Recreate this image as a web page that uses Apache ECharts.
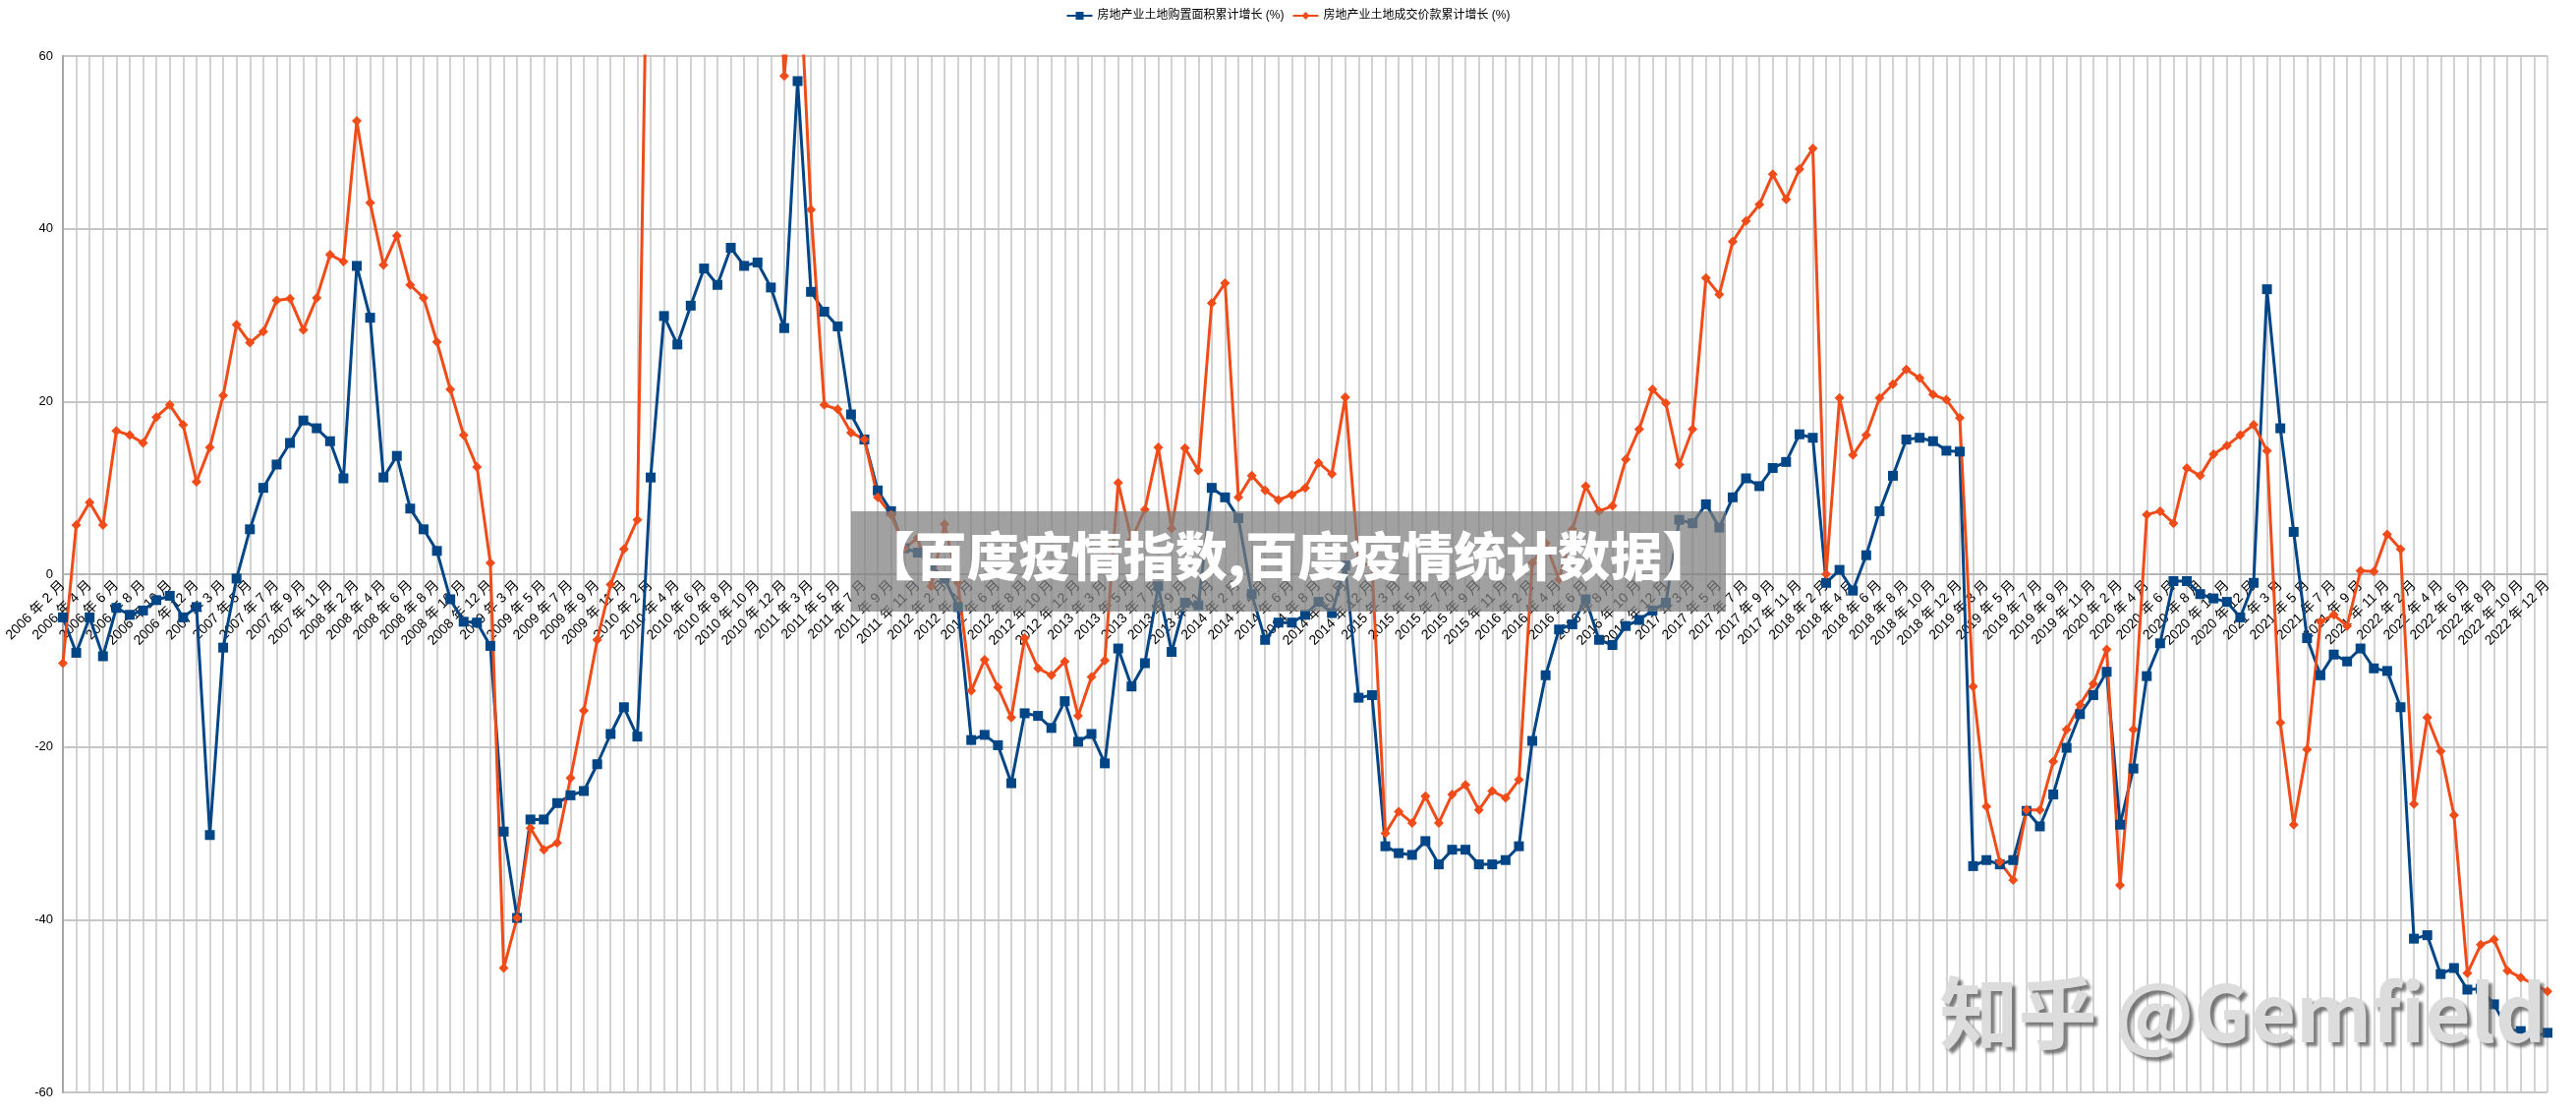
<!DOCTYPE html>
<html lang="zh">
<head>
<meta charset="UTF-8">
<title>房地产业土地购置面积与成交价款累计增长</title>
<script src="https://cdn.jsdelivr.net/npm/echarts@6/dist/echarts.min.js"></script>
<style>
  html, body { margin: 0; padding: 0; background: #fff; }
  #main { width: 2621px; height: 1134px; }
</style>
</head>
<body>
<div id="main"></div>
<script>
// months run Feb..Dec (Jan is merged into Feb), 2006-2022
var years = [];
for (var y = 2006; y <= 2022; y++) years.push(y);
var months = [2, 3, 4, 5, 6, 7, 8, 9, 10, 11, 12];

var seriesNames = ['房地产业土地购置面积累计增长 (%)', '房地产业土地成交价款累计增长 (%)'];

// 土地购置面积累计增长 (%)
var areaGrowth = [
  -5.0, -9.1, -5.0, -9.5, -3.9, -4.7, -4.2, -3.0, -2.5, -5.0, -3.8,
  -30.2, -8.5, -0.5, 5.2, 10.0, 12.7, 15.2, 17.8, 16.9, 15.4, 11.1,
  35.7, 29.7, 11.2, 13.7, 7.6, 5.2, 2.7, -2.9, -5.5, -5.6, -8.3,
  -29.8, -39.8, -28.4, -28.4, -26.5, -25.6, -25.1, -22.0, -18.5, -15.4, -18.8,
  11.2, 29.9, 26.6, 31.1, 35.4, 33.5, 37.8, 35.7, 36.1, 33.2, 28.5,
  57.1, 32.7, 30.4, 28.7, 18.5, 15.6, 9.7, 7.3, 3.0, 2.5, 1.0,
  -0.5, -3.8, -19.2, -18.6, -19.8, -24.2, -16.1, -16.4, -17.8, -14.7, -19.4,
  -18.5, -21.9, -8.6, -13.0, -10.3, -1.4, -9.0, -3.3, -3.6, 10.0, 8.9,
  6.5, -2.3, -7.6, -5.6, -5.6, -4.7, -3.2, -4.5, 1.0, -14.3, -14.0,
  -31.5, -32.3, -32.5, -30.9, -33.6, -31.9, -31.9, -33.6, -33.6, -33.1, -31.5,
  -19.3, -11.7, -6.4, -5.8, -2.9, -7.6, -8.2, -6.0, -5.3, -4.2, -3.3,
  6.3, 5.9, 8.1, 5.4, 8.9, 11.1, 10.2, 12.3, 13.0, 16.2, 15.8,
  -1.0, 0.5, -1.9, 2.2, 7.3, 11.4, 15.6, 15.8, 15.4, 14.3, 14.2,
  -33.8, -33.1, -33.6, -33.1, -27.4, -29.2, -25.5, -20.1, -16.2, -14.0, -11.3,
  -29.0, -22.5, -11.8, -8.0, -0.8, -0.8, -2.3, -2.8, -3.2, -5.0, -1.0,
  33.0, 16.9, 4.9, -7.4, -11.7, -9.3, -10.1, -8.6, -10.9, -11.2, -15.4,
  -42.2, -41.8, -46.3, -45.6, -48.1, -48.0, -49.8, -52.7, -52.9, -53.5, -53.1
];

// 土地成交价款累计增长 (%), 2010 values run off the top of the chart
var priceGrowth = [
  -10.3, 5.7, 8.3, 5.7, 16.6, 16.1, 15.2, 18.2, 19.6, 17.3, 10.7,
  14.7, 20.7, 28.9, 26.8, 28.1, 31.7, 31.9, 28.3, 32.0, 37.0, 36.2,
  52.5, 43.0, 35.8, 39.2, 33.5, 32.0, 26.9, 21.4, 16.1, 12.4, 1.3,
  -45.6, -39.8, -29.4, -31.9, -31.1, -23.6, -15.8, -7.6, -1.2, 2.9, 6.3,
  100, 110, 120, 125, 130, 125, 120, 110, 100, 90, 57.7,
  75, 42.2, 19.6, 19.1, 16.4, 15.6, 8.9, 6.9, 3.0, 4.2, -1.4,
  5.8, -1.0, -13.5, -9.9, -13.1, -16.6, -7.4, -10.9, -11.7, -10.1, -16.4,
  -11.9, -10.0, 10.6, 4.0, 7.5, 14.7, 5.3, 14.6, 12.0, 31.4, 33.7,
  8.9, 11.4, 9.7, 8.6, 9.2, 10.0, 12.9, 11.6, 20.5, 1.3, 1.0,
  -30.0, -27.5, -28.8, -25.7, -28.8, -25.5, -24.4, -27.3, -25.1, -25.9, -23.8,
  1.3, 3.6, -0.6, 5.2, 10.2, 7.3, 7.9, 13.3, 16.8, 21.4, 19.8,
  12.7, 16.8, 34.3, 32.4, 38.5, 40.9, 42.8, 46.3, 43.4, 46.9, 49.3,
  0.0, 20.4, 13.8, 16.1, 20.4, 22.0, 23.7, 22.7, 20.8, 20.2, 18.1,
  -13.0, -26.9, -33.3, -35.4, -27.3, -27.3, -21.7, -18.0, -15.1, -12.7, -8.7,
  -36.0, -18.0, 6.9, 7.3, 5.9, 12.3, 11.4, 13.9, 14.9, 16.1, 17.3,
  14.3, -17.2, -29.0, -20.3, -5.5, -4.7, -6.0, 0.4, 0.3, 4.6, 2.9,
  -26.6, -16.6, -20.5, -27.9, -46.2, -42.9, -42.3, -45.9, -46.7, -47.5, -48.3
];

var watermarkText = '【百度疫情指数,百度疫情统计数据】';
var creditText = '知乎 @Gemfield';

var categories = [];
years.forEach(function (yr) {
  months.forEach(function (m) {
    categories.push(yr + ' 年 ' + m + ' 月');
  });
});

var font = "'Liberation Sans', 'Noto Sans CJK SC', sans-serif";
var chart = echarts.init(document.getElementById('main'));

var option = {
  backgroundColor: '#ffffff',
  animation: false,
  legend: {
    top: 5,
    left: 'center',
    itemWidth: 26,
    itemHeight: 10,
    itemGap: 8,
    textStyle: { fontSize: 12, color: '#000', fontFamily: font },
    data: seriesNames
  },
  grid: {
    left: 64,
    right: 29,
    top: 57,
    bottom: 23,
    containLabel: false,
    outerBoundsMode: 'none'
  },
  xAxis: {
    type: 'category',
    data: categories,
    boundaryGap: false,
    // category labels sit on the zero line, as in the source sheet
    offset: -527,
    axisLine: { onZero: false, lineStyle: { color: '#b3b3b3', width: 1.5 } },
    axisTick: { show: false },
    axisLabel: {
      interval: 1,
      rotate: 45,
      margin: 9,
      fontSize: 14,
      color: '#000',
      fontFamily: font
    },
    splitLine: {
      show: true,
      interval: 0,
      lineStyle: { color: '#c4c4c4', width: 1.5 }
    }
  },
  yAxis: {
    type: 'value',
    min: -60,
    max: 60,
    interval: 20,
    axisLine: { show: true, lineStyle: { color: '#a6a6a6', width: 2 } },
    axisTick: { show: false },
    axisLabel: { fontSize: 13, color: '#000', margin: 10, fontFamily: font },
    splitLine: { lineStyle: { color: '#b3b3b3', width: 1.5 } }
  },
  series: [
    {
      name: seriesNames[0],
      type: 'line',
      data: areaGrowth,
      symbol: 'rect',
      symbolSize: 10,
      showAllSymbol: true,
      color: '#004586',
      lineStyle: { width: 3, color: '#004586' },
      itemStyle: { color: '#004586' }
    },
    {
      name: seriesNames[1],
      type: 'line',
      data: priceGrowth,
      symbol: 'diamond',
      symbolSize: 10,
      showAllSymbol: true,
      color: '#f04c19',
      lineStyle: { width: 3, color: '#f04c19' },
      itemStyle: { color: '#f04c19' }
    }
  ],
  graphic: [
    {
      type: 'rect',
      z: 100,
      shape: { x: 866, y: 520, width: 890, height: 102 },
      style: { fill: 'rgba(125,125,125,0.72)' }
    },
    {
      type: 'text',
      z: 101,
      x: 1311,
      y: 566,
      style: {
        text: watermarkText,
        fill: '#ffffff',
        font: "900 53px 'Noto Sans CJK SC', sans-serif",
        align: 'center',
        verticalAlign: 'middle'
      }
    },
    {
      type: 'text',
      z: 101,
      x: 2282,
      y: 1030,
      style: {
        text: creditText,
        fill: '#dcdcdc',
        font: "bold 80px 'Noto Sans CJK SC', 'Liberation Sans', sans-serif",
        align: 'center',
        verticalAlign: 'middle',
        textShadowColor: 'rgba(90,90,90,0.8)',
        textShadowBlur: 3,
        textShadowOffsetX: 4,
        textShadowOffsetY: 4
      }
    }
  ]
};

chart.setOption(option);
</script>
</body>
</html>
